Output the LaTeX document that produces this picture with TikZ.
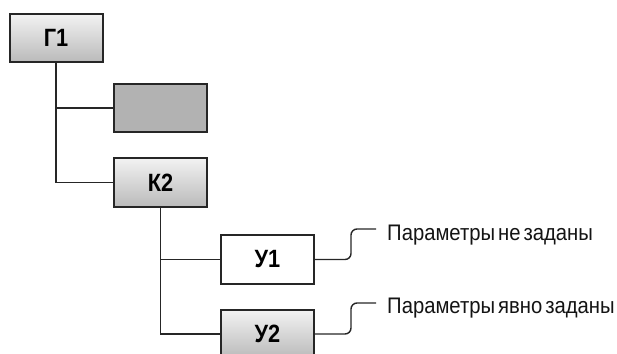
\documentclass[tikz,border=0pt]{standalone}
\usepackage{fontspec}
\setmainfont{Liberation Sans}
\newfontfamily\lblfont[FakeStretch=0.9]{Liberation Sans}
\newfontfamily\boxfont[FakeStretch=0.87]{Liberation Sans}
\begin{document}
\begin{tikzpicture}[x=1pt,y=-1pt,
  box/.style={draw=black!85, line width=2pt, minimum width=93pt, minimum height=48pt, inner sep=0pt,
    font=\boxfont\fontsize{25}{25}\selectfont\bfseries},
  shadebox/.style={box, top color=white!95!black, bottom color=black!27},
  conn/.style={draw=black!85, line width=1.6pt},
  lbl/.style={anchor=base west, inner sep=0pt, text=black!92, font=\lblfont\fontsize{22.5}{23}\selectfont}]
\useasboundingbox (0,0) rectangle (617,353);
\node[shadebox] (g1) at (56,38) {Г1};
\node[box, fill=black!30] (gr) at (160.5,108) {};
\node[shadebox, minimum height=49pt] (k2) at (160.5,182.5) {К2};
\node[box, fill=white, minimum height=49pt] (u1) at (267.5,259.5) {У1};
\node[shadebox] (u2) at (267.5,334) {У2};
\draw[conn] (g1.south) |- (gr.west);
\draw[conn] (g1.south) |- (k2.west);
\draw[conn] (k2.south) |- (u1.west);
\draw[conn] (k2.south) |- (u2.west);
\coordinate (c1) at (376,229);
\coordinate (c2) at (376,303);
\node[lbl] (t1) at (387,240) {Параметры\hspace{3pt}не\hspace{3pt}заданы};
\node[lbl] (t2) at (387,313) {Параметры\hspace{3pt}явно\hspace{3pt}заданы};
\draw[conn, line width=1.4pt, rounded corners=6pt] (u1.east) -- ++(36,0) |- (c1);
\draw[conn, line width=1.4pt, rounded corners=6pt] (u2.east) -- ++(36,0) |- (c2);
\end{tikzpicture}
\end{document}
